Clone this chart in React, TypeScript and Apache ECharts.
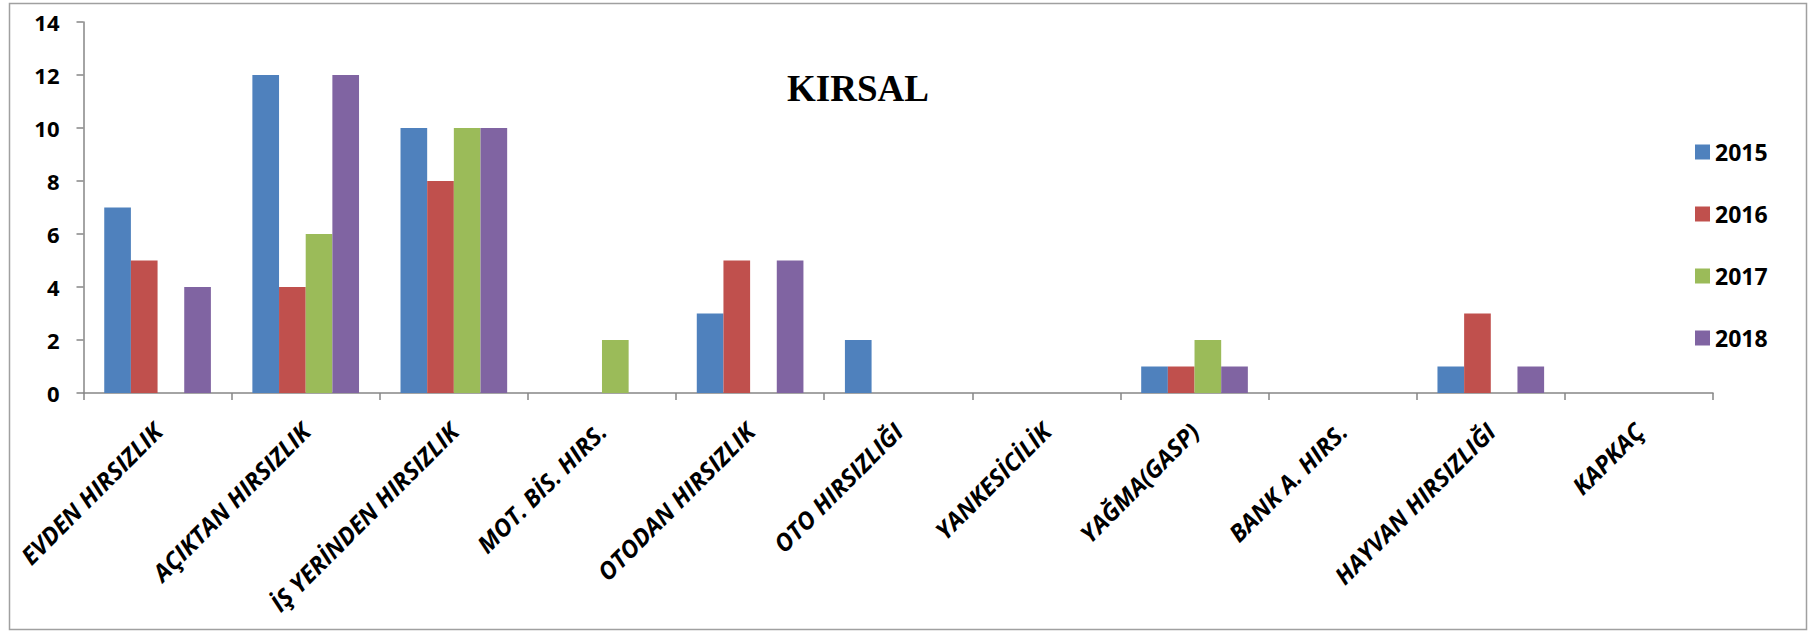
import React, { useEffect, useRef } from "react";
import * as echarts from "echarts";

const categories = [
  "EVDEN HIRSIZLIK",
  "AÇIKTAN HIRSIZLIK",
  "İŞ YERİNDEN HIRSIZLIK",
  "MOT. BİS. HIRS.",
  "OTODAN HIRSIZLIK",
  "OTO HIRSIZLIĞI",
  "YANKESİCİLİK",
  "YAĞMA(GASP)",
  "BANK A. HIRS.",
  "HAYVAN HIRSIZLIĞI",
  "KAPKAÇ",
];
const years = ["2015", "2016", "2017", "2018"];
const v2015 = [7, 12, 10, 0, 3, 2, 0, 1, 0, 1, 0];
const v2016 = [5, 4, 8, 0, 5, 0, 0, 1, 0, 3, 0];
const v2017 = [0, 6, 10, 2, 0, 0, 0, 2, 0, 0, 0];
const v2018 = [4, 12, 10, 0, 5, 0, 0, 1, 0, 1, 0];
const yTicks = [0, 2, 4, 6, 8, 10, 12, 14];
const colors = ["#4F81BD", "#C0504D", "#9BBB59", "#8064A2"];
const title = "KIRSAL";

export default function App() {
  const ref = useRef<HTMLDivElement>(null);
  useEffect(() => {
    if (!ref.current) return;
    const chart = echarts.init(ref.current, null, { renderer: "svg" });
    const values = [v2015, v2016, v2017, v2018];
    const font = "'Open Sans', 'DejaVu Sans', sans-serif";
    chart.setOption({
      animation: false,
      backgroundColor: "#ffffff",
      title: {
        text: title,
        left: 787,
        top: 70,
        padding: 0,
        textStyle: {
          fontFamily: "'Liberation Serif', 'Times New Roman', serif",
          fontWeight: "bold",
          fontSize: 37,
          color: "#000",
        },
      },
      graphic: [
        {
          type: "rect",
          shape: { x: 9.5, y: 3.5, width: 1797, height: 626 },
          style: { fill: "none", stroke: "#a0a0a0", lineWidth: 1.5 },
          silent: true,
        },
      ],
      legend: {
        orient: "vertical",
        left: 1695,
        top: 140,
        padding: 0,
        itemWidth: 15,
        itemHeight: 15,
        itemGap: 38,
        icon: "rect",
        data: years,
        textStyle: {
          fontFamily: font,
          fontWeight: "bold",
          fontSize: 23,
          lineHeight: 24,
          color: "#000",
        },
      },
      grid: { left: 83.5, right: 105, top: 22, bottom: 239, containLabel: false },
      xAxis: {
        type: "category",
        data: categories,
        axisLine: { lineStyle: { color: "#868686", width: 1.5 } },
        axisTick: { show: true, alignWithLabel: false, length: 7, lineStyle: { color: "#868686", width: 1.5 } },
        axisLabel: {
          interval: 0,
          rotate: 45,
          margin: 34,
          fontFamily: font,
          fontWeight: "bold",
          fontStyle: "italic",
          fontSize: 24,
          color: "#000",
        },
        splitLine: { show: false },
      },
      yAxis: {
        type: "value",
        min: yTicks[0],
        max: yTicks[yTicks.length - 1],
        interval: 2,
        axisLine: { show: true, lineStyle: { color: "#868686", width: 1.5 } },
        axisTick: { show: true, length: 7, lineStyle: { color: "#868686", width: 1.5 } },
        axisLabel: {
          margin: 24,
          fontFamily: font,
          fontWeight: "bold",
          fontSize: 22,
          color: "#000",
        },
        splitLine: { show: false },
      },
      series: years.map((y, i) => ({
        name: y,
        type: "bar",
        data: values[i],
        barGap: "0%",
        barCategoryGap: "28%",
        itemStyle: { color: colors[i], borderWidth: 0 },
      })),
    });
    return () => chart.dispose();
  }, []);
  return (
    <div
      ref={ref}
      style={{ position: "fixed", left: 0, top: 0, width: 1818, height: 632, background: "#fff" }}
    />
  );
}
